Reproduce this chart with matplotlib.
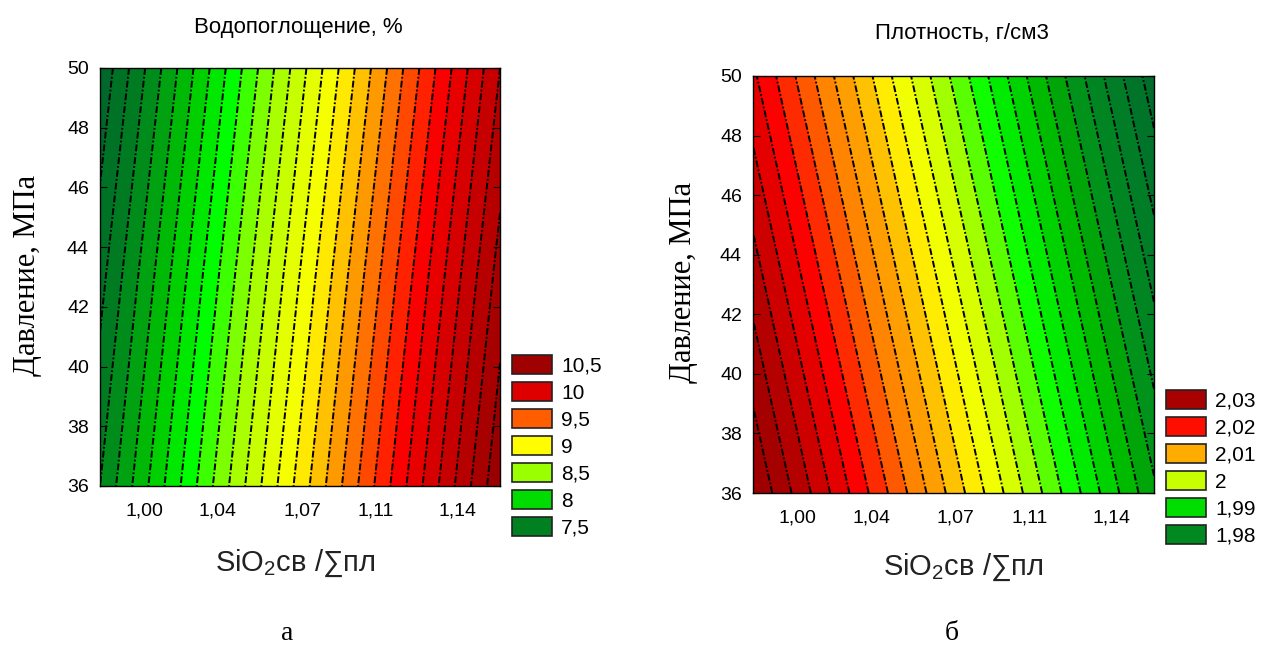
import numpy as np
import matplotlib
matplotlib.use('Agg')
import matplotlib.pyplot as plt
from matplotlib.colors import LinearSegmentedColormap, Normalize
from matplotlib.patches import Patch

plt.rcParams['font.family'] = ['Liberation Sans', 'DejaVu Sans']
plt.rcParams['mathtext.fontset'] = 'custom'
plt.rcParams['mathtext.rm'] = 'Liberation Sans'
plt.rcParams['mathtext.it'] = 'Liberation Sans:italic'

# grid knots (x = SiO2св/∑пл, y = pressure, MPa)
x_knots = [0.98, 1.07, 1.16]
y_knots = [36, 43, 50]

# water absorption, % (rows = y_knots, cols = x_knots)
water = [[7.50, 9.05, 10.60],
         [7.33, 8.88, 10.43],
         [7.15, 8.70, 10.25]]

# density, g/cm3
density = [[2.035, 2.009, 1.983],
           [2.029, 2.003, 1.977],
           [2.023, 1.997, 1.971]]

water_legend = ['10,5', '10', '9,5', '9', '8,5', '8', '7,5']
water_legend_vals = [10.5, 10.0, 9.5, 9.0, 8.5, 8.0, 7.5]
density_legend = ['2,03', '2,02', '2,01', '2', '1,99', '1,98']
density_legend_vals = [2.03, 2.02, 2.01, 2.00, 1.99, 1.98]

xtick_pos = [1.000, 1.033, 1.071, 1.104, 1.141]
xtick_labels = ['1,00', '1,04', '1,07', '1,11', '1,14']
ytick_vals = [36, 38, 40, 42, 44, 46, 48, 50]

# colour ramps, value -> colour
water_ramp = [(7.0, '#005a30'), (7.5, '#008020'), (7.9, '#00c800'),
              (8.2, '#00ff00'), (8.5, '#99ff00'), (8.8, '#e0ff00'),
              (9.0, '#ffff00'), (9.4, '#ff8000'), (9.8, '#ff0000'),
              (10.0, '#e00000'), (10.5, '#a00000'), (11.0, '#800000')]
density_ramp = [(1.965, '#005a30'), (1.975, '#007a28'), (1.98, '#008a20'),
                (1.985, '#00b000'), (1.99, '#00e000'), (1.993, '#00ff00'),
                (2.00, '#ccff00'), (2.005, '#ffff00'), (2.01, '#ffaa00'),
                (2.014, '#ff8000'), (2.021, '#ff0000'), (2.03, '#a80000'),
                (2.045, '#800000')]


def make_cmap(ramp):
    lo, hi = ramp[0][0], ramp[-1][0]
    pts = [((v - lo) / (hi - lo), c) for v, c in ramp]
    return LinearSegmentedColormap.from_list('ramp', pts), Normalize(lo, hi)


W, H = 1264, 648
fig = plt.figure(figsize=(W / 100, H / 100), dpi=100)


def px(x, y):
    return x / W, 1 - y / H


def panel(rect, z, ramp, levels, leg_labels, leg_vals, leg_xy):
    ax = fig.add_axes(rect)
    cmap, norm = make_cmap(ramp)
    X, Y = np.meshgrid(x_knots, y_knots)
    Z = np.array(z)
    ax.contourf(X, Y, Z, levels=levels, cmap=cmap, norm=norm)
    ax.contour(X, Y, Z, levels=levels, colors='k', linewidths=1.4,
               linestyles=[(0, (3.5, 1.1, 0.9, 1.1))])
    ax.set_xlim(x_knots[0], x_knots[-1])
    ax.set_ylim(y_knots[0], y_knots[-1])
    ax.set_xticks(xtick_pos)
    ax.set_xticklabels(xtick_labels)
    ax.set_yticks(ytick_vals)
    ax.tick_params(axis='x', length=0, pad=12, labelsize=14)
    ax.tick_params(axis='y', direction='in', length=5, right=True,
                   pad=8, labelsize=14)
    for s in ax.spines.values():
        s.set_linewidth(1.0)
    handles = [Patch(facecolor=cmap(norm(v)), edgecolor='#222222', linewidth=1.2)
               for v in leg_vals]
    fig.legend(handles, leg_labels, loc='upper left', bbox_to_anchor=px(*leg_xy),
               frameon=False, fontsize=15, handlelength=1.9, handleheight=1.05,
               labelspacing=0.3, handletextpad=0.45, borderpad=0,
               borderaxespad=0)
    return ax


panel([100 / W, 1 - 486 / H, 400 / W, 418 / H], water, water_ramp,
      np.arange(7.0, 11.0, 0.125), water_legend, water_legend_vals, (512, 355))
panel([753 / W, 1 - 493 / H, 401 / W, 417 / H], density, density_ramp,
      np.arange(1.965, 2.045, 0.0025), density_legend, density_legend_vals,
      (1166, 390))

serif = ['Liberation Serif', 'DejaVu Serif']
xlab = 'SiO$_\\mathregular{2}$св /∑пл'

fig.text(*px(298, 28), 'Водопоглощение, %', ha='center', va='center', fontsize=16)
fig.text(*px(962, 33), 'Плотность, г/см3', ha='center', va='center', fontsize=16)
fig.text(*px(28, 275), 'Давление, МПа', rotation=90, ha='center', va='center',
         fontsize=22, family=serif)
fig.text(*px(684, 282), 'Давление, МПа', rotation=90, ha='center', va='center',
         fontsize=22, family=serif)
fig.text(*px(295, 563), xlab, ha='center', va='center', fontsize=21, color='#222222')
fig.text(*px(963, 567), xlab, ha='center', va='center', fontsize=21, color='#222222')
fig.text(*px(287, 634), 'а', ha='center', va='center', fontsize=20, family=serif)
fig.text(*px(952, 634), 'б', ha='center', va='center', fontsize=20, family=serif)

fig.savefig('out.png', dpi=100)
